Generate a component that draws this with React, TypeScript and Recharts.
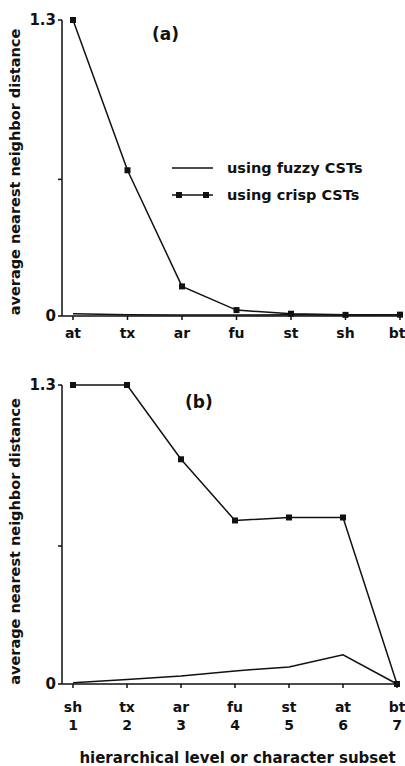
import { LineChart, Line, XAxis, YAxis } from "recharts";

// panel (a): ordered by level
const levelsA = ["at", "tx", "ar", "fu", "st", "sh", "bt"];
const fuzzyA = [0.01, 0.005, 0.004, 0.004, 0.006, 0.004, 0.005];
const crispA = [1.3, 0.64, 0.13, 0.026, 0.01, 0.005, 0.006];

// panel (b): ordered by rank
const levelsB = ["sh", "tx", "ar", "fu", "st", "at", "bt"];
const ranksB = ["1", "2", "3", "4", "5", "6", "7"];
const fuzzyB = [0.005, 0.02, 0.035, 0.057, 0.074, 0.127, 0];
const crispB = [1.3, 1.3, 0.977, 0.711, 0.724, 0.724, 0];

const yTicks = [0, 0.6, 1.3];
const yTitle = "average nearest neighbor distance";
const xTitle = "hierarchical level or character subset";

const dataA = levelsA.map((level, i) => ({ level, fuzzy: fuzzyA[i], crisp: crispA[i] }));
const dataB = levelsB.map((level, i) => ({ level, fuzzy: fuzzyB[i], crisp: crispB[i] }));

const FONT = "'DejaVu Sans', sans-serif";
const INK = "#111";

const SquareDot = (props: any) => {
  const { cx, cy } = props;
  if (cx == null || cy == null) return null;
  return <rect x={cx - 3} y={cy - 3} width={6} height={6} fill={INK} />;
};

const YTitle = (props: any) => {
  const vb = props.viewBox || {};
  const x = 15;
  const y = vb.y + vb.height / 2 + (props.shift || 0);
  return (
    <text
      x={x}
      y={y}
      transform={`rotate(-90, ${x}, ${y})`}
      textAnchor="middle"
      dominantBaseline="central"
      fontFamily={FONT}
      fontWeight="bold"
      fontSize={14.5}
      fill={INK}
    >
      {yTitle}
    </text>
  );
};

const XTitle = (props: any) => {
  const vb = props.viewBox || {};
  return (
    <text
      x={vb.x + vb.width / 2 + 8}
      y={vb.y + 79}
      textAnchor="middle"
      fontFamily={FONT}
      fontWeight="bold"
      fontSize={15}
      fill={INK}
    >
      {xTitle}
    </text>
  );
};

const TickA = (props: any) => {
  const { x, y, payload, index } = props;
  const dx = index === levelsA.length - 1 ? -3 : 0;
  return (
    <text x={x + dx} y={y + 16} textAnchor="middle" fontFamily={FONT} fontWeight="bold" fontSize={14} fill={INK}>
      {payload.value}
    </text>
  );
};

const TickB = (props: any) => {
  const { x, y, payload, index } = props;
  return (
    <g>
      <text x={x} y={y + 22} textAnchor="middle" fontFamily={FONT} fontWeight="bold" fontSize={14} fill={INK}>
        {payload.value}
      </text>
      <text x={x} y={y + 40} textAnchor="middle" fontFamily={FONT} fontWeight="bold" fontSize={14} fill={INK}>
        {ranksB[index]}
      </text>
    </g>
  );
};

const LegendBox = () => (
  <svg width={210} height={50} style={{ display: "block" }}>
    <line x1={2} y1={10} x2={43} y2={10} stroke={INK} strokeWidth={1.5} />
    <text x={57} y={15} fontFamily={FONT} fontWeight="bold" fontSize={14.5} fill={INK}>
      using fuzzy CSTs
    </text>
    <line x1={2} y1={37} x2={43} y2={37} stroke={INK} strokeWidth={1.5} />
    <rect x={6} y={34} width={6} height={6} fill={INK} />
    <rect x={33} y={34} width={6} height={6} fill={INK} />
    <text x={57} y={42} fontFamily={FONT} fontWeight="bold" fontSize={14.5} fill={INK}>
      using crisp CSTs
    </text>
  </svg>
);

const yFmt = (v: number) => (v === 0.6 ? "" : String(v));

const PanelLabel = ({ text, left, top }: { text: string; left: number; top: number }) => (
  <div
    style={{
      position: "absolute",
      left,
      top,
      fontFamily: FONT,
      fontWeight: "bold",
      fontSize: 17,
      color: INK,
    }}
  >
    {text}
  </div>
);

export default function App() {
  const axisProps = { stroke: INK, strokeWidth: 1.5 };
  const yTick = { fontFamily: FONT, fontWeight: "bold", fontSize: 15, fill: INK };
  return (
    <div style={{ position: "absolute", left: 0, top: 0, width: 405, height: 766, background: "#fff" }}>
      <div style={{ position: "absolute", left: 0, top: 0 }}>
        <LineChart width={405} height={345} data={dataA} margin={{ top: 20, right: 5, bottom: 0, left: 0 }}>
          <XAxis
            dataKey="level"
            padding={{ left: 11, right: 0 }}
            height={29}
            tickSize={4}
            tickLine={axisProps}
            axisLine={axisProps}
            tick={<TickA />}
            interval={0}
          />
          <YAxis
            width={62}
            domain={[0, 1.3]}
            ticks={yTicks}
            tickFormatter={yFmt}
            tickSize={4}
            tickLine={axisProps}
            axisLine={axisProps}
            tick={yTick}
            label={<YTitle shift={4} />}
          />
          <Line dataKey="fuzzy" stroke={INK} strokeWidth={1.5} dot={false} isAnimationActive={false} />
          <Line dataKey="crisp" stroke={INK} strokeWidth={1.5} dot={<SquareDot />} isAnimationActive={false} />
        </LineChart>
      </div>
      <div style={{ position: "absolute", left: 170, top: 158 }}>
        <LegendBox />
      </div>
      <PanelLabel text="(a)" left={152} top={24} />
      <div style={{ position: "absolute", left: 0, top: 365 }}>
        <LineChart width={405} height={401} data={dataB} margin={{ top: 20, right: 8, bottom: 0, left: 0 }}>
          <XAxis
            dataKey="level"
            padding={{ left: 11, right: 0 }}
            height={82}
            tickSize={4}
            tickLine={axisProps}
            axisLine={axisProps}
            tick={<TickB />}
            interval={0}
            label={<XTitle />}
          />
          <YAxis
            width={62}
            domain={[0, 1.3]}
            ticks={yTicks}
            tickFormatter={yFmt}
            tickSize={4}
            tickLine={axisProps}
            axisLine={axisProps}
            tick={yTick}
            label={<YTitle shift={7} />}
          />
          <Line dataKey="fuzzy" stroke={INK} strokeWidth={1.5} dot={false} isAnimationActive={false} />
          <Line dataKey="crisp" stroke={INK} strokeWidth={1.5} dot={<SquareDot />} isAnimationActive={false} />
        </LineChart>
      </div>
      <PanelLabel text="(b)" left={185} top={392} />
    </div>
  );
}
